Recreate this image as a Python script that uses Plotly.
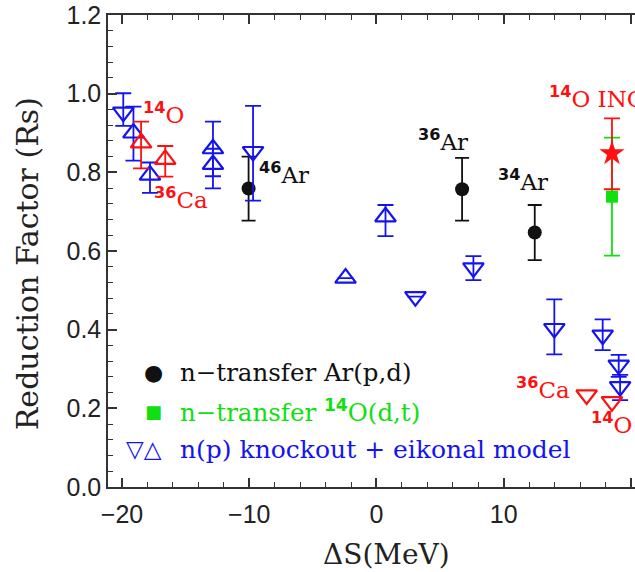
import math
import plotly.graph_objects as go

NAN = float("nan")

# ---------------- data ----------------
# n-transfer Ar(p,d)  (black circles)
ar_x = [-10.05, 6.73, 12.44]
ar_y = [0.759, 0.757, 0.647]
ar_hi = [0.840, 0.837, 0.717]
ar_lo = [0.677, 0.677, 0.577]

# n-transfer 14O(d,t)  (green square)
dt_x = [18.51]
dt_y = [0.738]
dt_hi = [0.888]
dt_lo = [0.588]

# 14O INC (red star)
inc_x = [18.51]
inc_y = [0.848]
inc_hi = [0.937]
inc_lo = [0.757]

# n(p) knockout + eikonal model, down triangles (blue)
kd_x = [-19.9, -9.7, 3.06, 7.62, 13.98, 17.78, 19.04, 19.15]
kd_y = [0.953, 0.853, 0.484, 0.557, 0.403, 0.386, 0.310, 0.255]
kd_hi = [1.001, 0.969, NAN, 0.587, 0.477, 0.426, 0.336, 0.285]
kd_lo = [0.918, 0.728, NAN, 0.526, 0.337, 0.348, 0.280, 0.221]

# n(p) knockout + eikonal model, up triangles (blue)
ku_x = [-19.1, -17.8, -12.85, -12.85, -2.43, 0.71]
ku_y = [0.900, 0.793, 0.860, 0.820, 0.531, 0.687]
ku_hi = [0.967, 0.825, 0.929, 0.860, NAN, 0.717]
ku_lo = [0.830, 0.748, 0.790, 0.759, NAN, 0.638]

# red up triangles (14O, 36Ca)
ru_x = [-18.5, -16.6]
ru_y = [0.875, 0.833]
ru_hi = [0.929, 0.867]
ru_lo = [0.810, 0.789]

# red down triangles (36Ca, 14O)
rd_x = [16.52, 18.51]
rd_y = [0.234, 0.217]

x_ticks = [-20, -10, 0, 10, 20]
y_ticks = [0.0, 0.2, 0.4, 0.6, 0.8, 1.0, 1.2]

BLACK = "#111111"
BLUE = "#1414f0"
RED = "#ff1010"
GREEN = "#10e010"
AX = "#333333"
SERIF = "DejaVu Serif"


def err(y, hi, lo):
    plus = [h - v if not math.isnan(h) else NAN for v, h in zip(y, hi)]
    minus = [v - l if not math.isnan(l) else NAN for v, l in zip(y, lo)]
    return plus, minus


fig = go.Figure()


def add(x, y, hi, lo, symbol, color, size, capw, line_w=2.0, filled=False):
    kw = {}
    if hi is not None:
        p, m = err(y, hi, lo)
        kw["error_y"] = dict(type="data", symmetric=False, array=p, arrayminus=m,
                             color=color, thickness=1.8, width=capw)
    marker = dict(symbol=symbol, size=size, color=color)
    if not filled:
        marker["line"] = dict(color=color, width=line_w)
    fig.add_trace(go.Scatter(x=x, y=y, mode="markers", marker=marker,
                             showlegend=False, hoverinfo="skip", **kw))


add(ar_x, ar_y, ar_hi, ar_lo, "circle", BLACK, 14, 7, filled=True)
add(dt_x, dt_y, dt_hi, dt_lo, "square", GREEN, 12, 8, filled=True)
add(inc_x, inc_y, inc_hi, inc_lo, "star", RED, 19, 8, filled=True)
add(kd_x, kd_y, kd_hi, kd_lo, "triangle-down-open", BLUE, 18, 8, line_w=2.2)
add(ku_x, ku_y, ku_hi, ku_lo, "triangle-up-open", BLUE, 18, 8, line_w=2.2)
add(ru_x, ru_y, ru_hi, ru_lo, "triangle-up-open", RED, 18, 8, line_w=2.2)
add(rd_x, rd_y, None, None, "triangle-down-open", RED, 18, 8, line_w=2.2)

ann = []


def label(text, x, y, color, xanchor, xs, ys, size=23):
    ann.append(dict(x=x, y=y, xref="x", yref="y", text=text, showarrow=False,
                    xanchor=xanchor, yanchor="middle", xshift=xs, yshift=ys,
                    font=dict(family=SERIF, size=size, color=color)))


def sup(n):
    return "<sup><span style=\"font-family:'DejaVu Sans'\"><b>%s</b></span></sup>" % n


label(sup("46") + "Ar", ar_x[0], ar_y[0], BLACK, "left", 8, 15)
label(sup("36") + "Ar", ar_x[1], ar_y[1], BLACK, "center", -19, 49)
label(sup("34") + "Ar", ar_x[2], ar_y[2], BLACK, "center", -12, 53)
label(sup("14") + "O INC", inc_x[0], inc_y[0], RED, "left", -65, 56)
label(sup("14") + "O", ru_x[0], ru_y[0], RED, "left", 0, 30)
label(sup("36") + "Ca", ru_x[1], ru_y[1], RED, "left", -13, -39)
label(sup("36") + "Ca", rd_x[0], rd_y[0], RED, "right", -15, 7)
label(sup("14") + "O", rd_x[1], rd_y[1], RED, "center", 0, -21)


def pann(text, x, y, color, size, family=SERIF, xanchor="left", angle=0):
    ann.append(dict(x=x, y=y, xref="paper", yref="paper", text=text, showarrow=False,
                    xanchor=xanchor, yanchor="middle", textangle=angle,
                    font=dict(family=family, size=size, color=color)))


# legend (manual)
pann("●", 0.0854, 0.2436, BLACK, 22, family="DejaVu Sans", xanchor="center")
pann("n−transfer Ar(p,d)", 0.1328, 0.2436, BLACK, 24.5)
pann("■", 0.0854, 0.161, GREEN, 18, family="DejaVu Sans", xanchor="center")
pann("n−transfer " + sup("14") + "O(d,t)", 0.1328, 0.161, GREEN, 24.5)
pann("▽△", 0.068, 0.0805, BLUE, 23, family="DejaVu Sans", xanchor="center")
pann("n(p) knockout + eikonal model", 0.1328, 0.0805, BLUE, 25)

# axis titles
pann("Reduction Factor (Rs)", -0.1537, 0.472, "#222222", 30, xanchor="center", angle=-90)
pann("ΔS(MeV)", 0.529, -0.144, "#222222", 28, xanchor="center")

fig.update_layout(
    width=635, height=572,
    margin=dict(l=108, r=0, t=15, b=85),
    paper_bgcolor="white", plot_bgcolor="white",
    annotations=ann,
    xaxis=dict(range=[-21.1, 20.32], tickvals=x_ticks, ticks="inside", ticklen=9,
               tickwidth=1.5, tickcolor=AX, showline=True, linecolor=AX, linewidth=1.5,
               mirror="ticks", showgrid=False, zeroline=False, ticklabelstandoff=4,
               minor=dict(dtick=2, tick0=0, ticks="inside", ticklen=5, tickcolor=AX,
                          tickwidth=1.2, showgrid=False),
               tickfont=dict(family="Liberation Sans", size=25, color="#222222")),
    yaxis=dict(range=[0, 1.2], tickvals=y_ticks, tickformat=".1f", ticks="inside",
               ticklen=9, tickwidth=1.5, tickcolor=AX, showline=True, linecolor=AX,
               linewidth=1.5, mirror=False, showgrid=False, zeroline=False,
               minor=dict(dtick=0.04, tick0=0, ticks="inside", ticklen=5, tickcolor=AX,
                          tickwidth=1.2, showgrid=False),
               tickfont=dict(family="Liberation Sans", size=25, color="#222222")),
)

fig.write_html("out.html")
